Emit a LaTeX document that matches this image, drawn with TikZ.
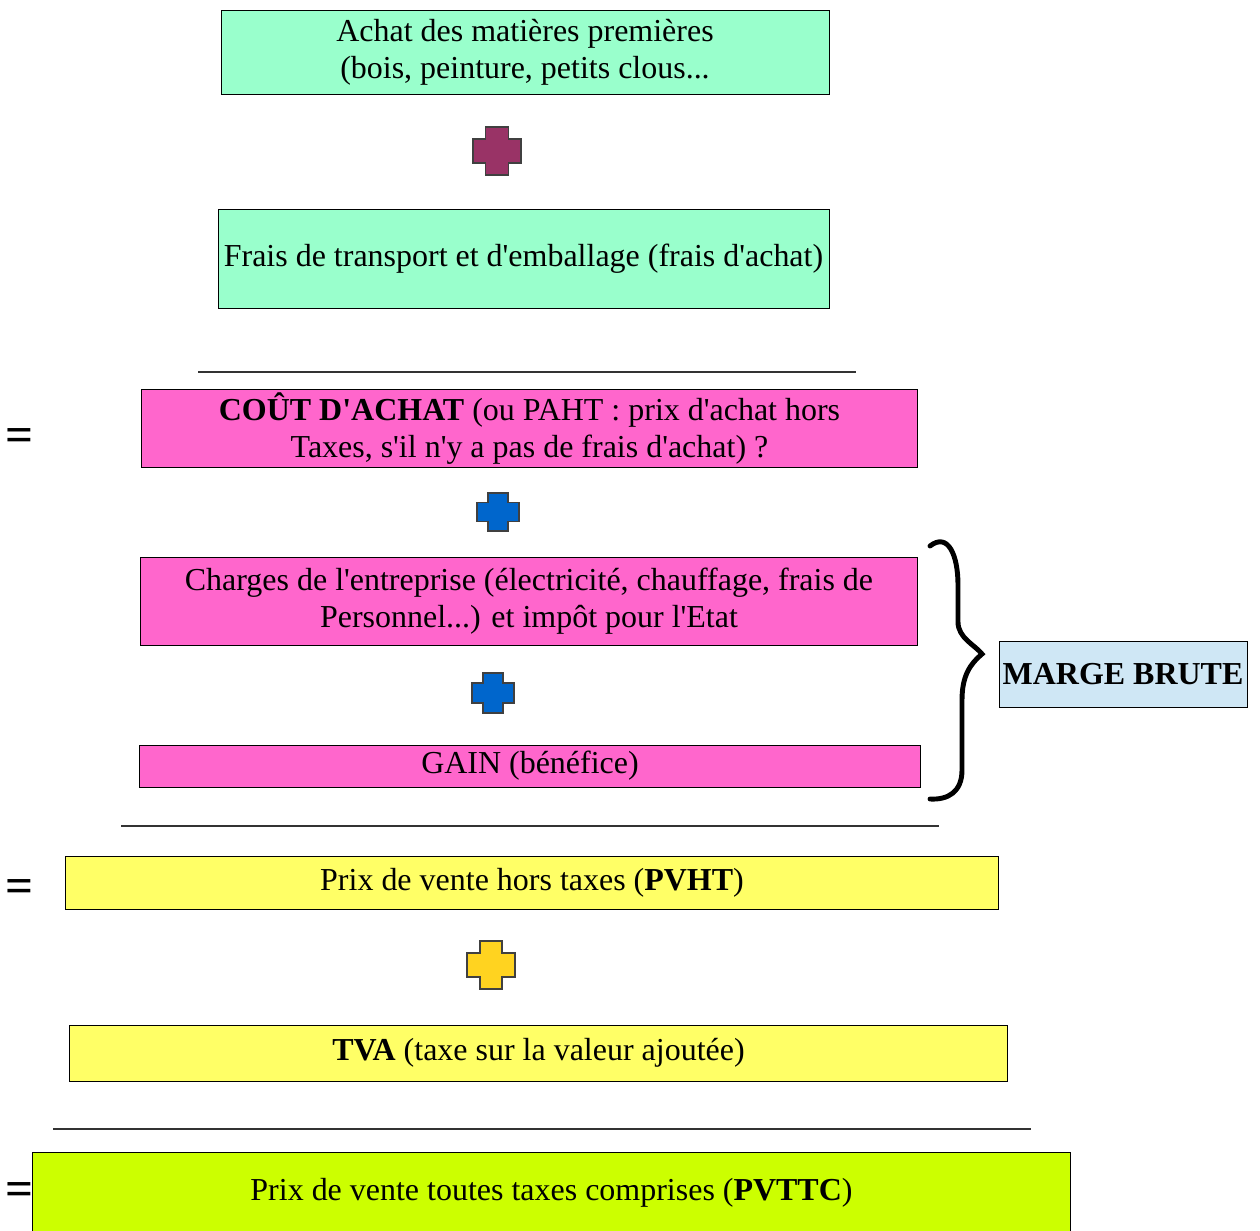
\documentclass[tikz,border=0pt]{standalone}
\usepackage{fontspec}
\setmainfont{Liberation Serif}[Ligatures=TeXOff]
\definecolor{vertclair}{HTML}{99FFCC}
\definecolor{rosevif}{HTML}{FF66CC}
\definecolor{jaunepale}{HTML}{FFFF66}
\definecolor{vertpomme}{HTML}{CCFF00}
\definecolor{bleuclair}{HTML}{CFE7F5}
\definecolor{prune}{HTML}{993366}
\definecolor{bleuvif}{HTML}{0066CC}
\definecolor{jauneor}{HTML}{FFD320}
\tikzset{
	boite/.style = {draw, line width=0.5pt, align=center, inner sep=2pt,
		font=\fontsize{18.2}{21}\selectfont},
	egal/.style = {font=\fontsize{28}{28}\bfseries},
	trait/.style = {line width=1pt, black!80},
	croix/.style = {draw=black!75, line width=0.6pt}
}

\begin{document}
\begin{tikzpicture}[x=0.02cm, y=-0.02cm]
		
		\useasboundingbox (0,0) rectangle (1260,1230);
		
		% boxes
		\node[boite, fill=vertclair, minimum width=12.16cm, minimum height=1.68cm] (achat) at (525,52)
			{Achat des matières premières\\ (bois, peinture, petits clous...};
		\node[boite, fill=vertclair, minimum width=12.22cm, minimum height=1.98cm] (frais) at (523.5,258.5)
			{Frais de transport et d'emballage (frais d'achat)};
		\node[boite, fill=rosevif, minimum width=15.54cm, minimum height=1.42cm] (cout) at (529.5,428.5)
			{\textbf{COÛT D'ACHAT} (ou PAHT : prix d'achat hors\\ Taxes, s'il n'y a pas de frais d'achat) ?};
		\node[boite, fill=rosevif, minimum width=15.56cm, minimum height=1.76cm] (charges) at (529,601)
			{Charges de l'entreprise (électricité, chauffage, frais de\\ Personnel...) et impôt pour l'Etat};
		\node[boite, fill=rosevif, minimum width=15.64cm, minimum height=0.84cm] (gain) at (530,766)
			{GAIN (bénéfice)};
		\node[boite, fill=bleuclair, minimum width=4.96cm, minimum height=1.32cm] (marge) at (1123,674)
			{\textbf{MARGE BRUTE}};
		\node[boite, fill=jaunepale, minimum width=18.68cm, minimum height=1.06cm] (pvht) at (532,883)
			{Prix de vente hors taxes (\textbf{PVHT})};
		\node[boite, fill=jaunepale, minimum width=18.78cm, minimum height=1.12cm] (tva) at (538.5,1053)
			{\textbf{TVA} (taxe sur la valeur ajoutée)};
		\node[boite, fill=vertpomme, minimum width=20.78cm, minimum height=1.64cm] (pvttc) at (551.5,1193)
			{Prix de vente toutes taxes comprises (\textbf{PVTTC})};
		
		% crosses
		\filldraw[croix, fill=prune, shift={(497,151)}] (-11.5,-24) -- (11.5,-24) -- (11.5,-12) -- (24,-12) -- (24,12) -- (11.5,12) -- (11.5,24) -- (-11.5,24) -- (-11.5,12) -- (-24,12) -- (-24,-12) -- (-11.5,-12) -- cycle;
		\filldraw[croix, fill=bleuvif, shift={(498,512)}] (-10,-19) -- (10,-19) -- (10,-9.5) -- (21,-9.5) -- (21,9.5) -- (10,9.5) -- (10,19) -- (-10,19) -- (-10,9.5) -- (-21,9.5) -- (-21,-9.5) -- (-10,-9.5) -- cycle;
		\filldraw[croix, fill=bleuvif, shift={(493,693)}] (-10,-20) -- (10,-20) -- (10,-10) -- (21,-10) -- (21,10) -- (10,10) -- (10,20) -- (-10,20) -- (-10,10) -- (-21,10) -- (-21,-10) -- (-10,-10) -- cycle;
		\filldraw[croix, fill=jauneor, shift={(491,965)}] (-11,-24) -- (11,-24) -- (11,-12) -- (24,-12) -- (24,12) -- (11,12) -- (11,24) -- (-11,24) -- (-11,12) -- (-24,12) -- (-24,-12) -- (-11,-12) -- cycle;
		
		% sum lines
		\draw[trait] (198,372) -- (856,372);
		\draw[trait] (121,826) -- (939,826);
		\draw[trait] (53,1129) -- (1031,1129);
		
		% equal signs
		\node[egal] (egal1) at (20,440) {=};
		\node[egal] (egal2) at (20,891) {=};
		\node[egal] (egal3) at (20,1194) {=};
		
		% brace
		\draw[line width=2.8pt, line cap=round] (930,546) .. controls (948,532) and (958,555) .. (958,585)
			-- (958,622) .. controls (958,638) and (975,645) .. (982,654)
			.. controls (970,664) and (962,676) .. (962,700)
			-- (962,770) .. controls (962,792) and (948,800) .. (930,799);
		
	\end{tikzpicture}
\end{document}
